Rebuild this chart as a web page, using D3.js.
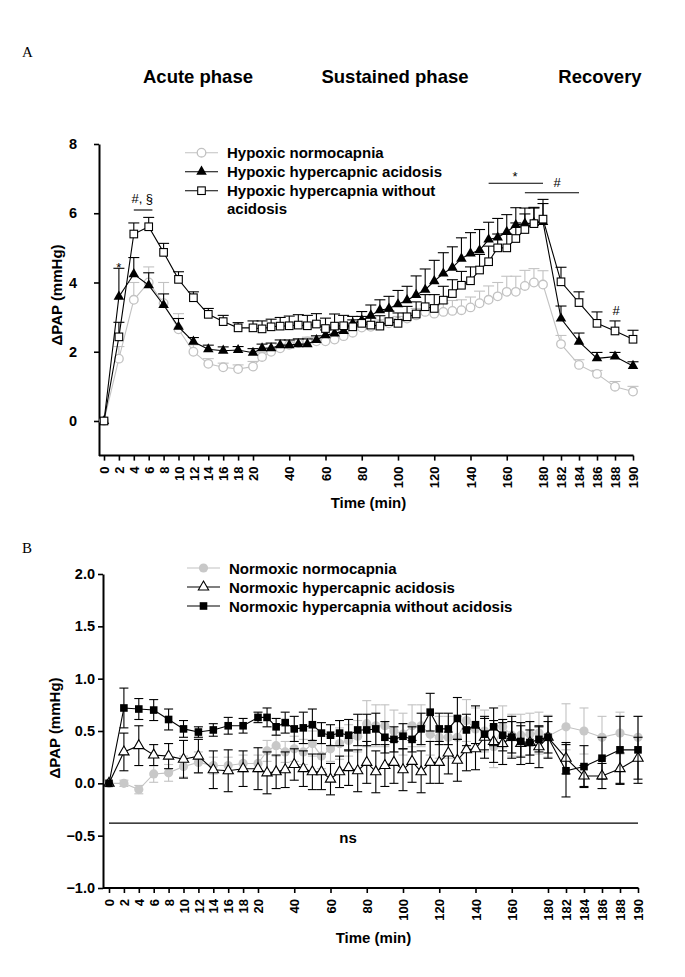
<!DOCTYPE html>
<html><head><meta charset="utf-8">
<script src="https://cdn.jsdelivr.net/npm/d3@7"></script>
<style>body{margin:0;background:#fff} svg{display:block}</style>
</head><body>
<script>
// ---------- DATA ----------
const times = [0,2,4,6,8,10,12,14,16,18,20,25,30,35,40,45,50,55,60,65,70,75,80,85,90,95,100,105,110,115,120,125,130,135,140,145,150,155,160,165,170,175,180,182,184,186,188,190];
const xTickValues = [0,2,4,6,8,10,12,14,16,18,20,40,60,80,100,120,140,160,180,182,184,186,188,190];
const yTicksA = [0,2,4,6,8];
const yTicksB = [-1.0,-0.5,0.0,0.5,1.0,1.5,2.0];

// Panel A
const hypoxNormo =    [0,1.8,3.5,4.0,3.4,2.65,2.0,1.65,1.55,1.5,1.57, 1.85,2.0,2.1,2.2,2.25,2.3,2.3,2.3,2.35,2.45,2.55,2.7,2.72,2.77,2.82,2.87,2.96,3.05,3.15,3.1,3.15,3.18,3.2,3.28,3.4,3.5,3.6,3.73,3.73,3.9,4.0,3.94, 2.22,1.62,1.36,0.99,0.85];
const hypoxNormoErr = [0,0.35,0.5,0.45,0.6,0.45,0.2,0.15,0.12,0.12,0.15, 0.12,0.12,0.12,0.12,0.12,0.12,0.12,0.12,0.12,0.12,0.12,0.15,0.15,0.15,0.15,0.15,0.15,0.2,0.2,0.25,0.25,0.3,0.3,0.3,0.35,0.4,0.4,0.45,0.45,0.45,0.4,0.4, 0.25,0.15,0.1,0.15,0.15];
const hypoxAcid =     [0,3.59,4.24,3.92,3.35,2.72,2.29,2.07,2.03,2.05,1.97, 2.1,2.1,2.19,2.19,2.22,2.22,2.34,2.48,2.53,2.6,2.82,2.91,3.05,3.2,3.25,3.37,3.49,3.64,3.79,4.04,4.26,4.43,4.69,4.84,4.93,5.24,5.30,5.46,5.66,5.70,5.72,5.75, 2.96,2.29,1.81,1.86,1.59];
const hypoxAcidErr =  [0,0.82,0.48,0.36,0.32,0.24,0.12,0.12,0.11,0.1,0.12, 0.12,0.15,0.15,0.15,0.15,0.15,0.12,0.15,0.15,0.15,0.2,0.25,0.3,0.3,0.35,0.4,0.4,0.55,0.6,0.6,0.6,0.6,0.6,0.6,0.6,0.5,0.55,0.5,0.5,0.45,0.45,0.65, 0.36,0.25,0.17,0.12,0.12];
const hypoxNoAcid =   [0,2.43,5.40,5.61,4.87,4.09,3.56,3.08,2.87,2.69,2.69, 2.66,2.72,2.74,2.75,2.77,2.75,2.8,2.67,2.74,2.75,2.72,2.82,2.77,2.74,2.87,2.82,3.01,3.09,3.30,3.25,3.49,3.68,3.92,4.05,4.36,4.6,5.0,5.0,5.27,5.53,5.70,5.83, 4.02,3.42,2.82,2.6,2.36];
const hypoxNoAcidErr =[0,0.42,0.32,0.27,0.26,0.22,0.17,0.17,0.18,0.15,0.2, 0.23,0.22,0.25,0.28,0.3,0.3,0.3,0.3,0.35,0.3,0.2,0.2,0.2,0.3,0.3,0.3,0.3,0.35,0.35,0.4,0.4,0.4,0.4,0.4,0.45,0.45,0.4,0.4,0.45,0.45,0.45,0.45, 0.42,0.31,0.33,0.29,0.26];

// Panel B
const normoNormo =    [0,0.0,-0.06,0.09,0.10,0.16,0.20,0.17,0.17,0.19,0.19, 0.31,0.36,0.30,0.33,0.30,0.38,0.26,0.33,0.38,0.41,0.45,0.57,0.55,0.55,0.50,0.47,0.55,0.55,0.47,0.44,0.44,0.44,0.60,0.52,0.50,0.35,0.54,0.46,0.46,0.47,0.48,0.45, 0.54,0.50,0.44,0.48,0.44];
const normoNormoErr = [0,0.03,0.04,0.08,0.08,0.1,0.1,0.08,0.08,0.08,0.08, 0.1,0.1,0.1,0.12,0.12,0.12,0.12,0.12,0.15,0.15,0.15,0.22,0.2,0.2,0.2,0.2,0.2,0.2,0.2,0.2,0.2,0.2,0.2,0.2,0.2,0.2,0.2,0.2,0.2,0.2,0.2,0.2, 0.22,0.22,0.2,0.2,0.2];
const normoAcid =     [0,0.30,0.36,0.27,0.26,0.23,0.26,0.13,0.12,0.14,0.14, 0.10,0.11,0.13,0.18,0.14,0.11,0.11,0.04,0.11,0.15,0.12,0.20,0.11,0.17,0.20,0.13,0.21,0.11,0.20,0.20,0.29,0.22,0.32,0.33,0.44,0.40,0.38,0.44,0.38,0.39,0.35,0.44, 0.24,0.07,0.07,0.14,0.24];
const normoAcidErr =  [0,0.18,0.19,0.1,0.12,0.18,0.16,0.18,0.2,0.17,0.2, 0.2,0.16,0.17,0.15,0.17,0.17,0.17,0.15,0.15,0.17,0.2,0.2,0.2,0.2,0.2,0.2,0.2,0.2,0.2,0.2,0.2,0.2,0.2,0.2,0.2,0.2,0.2,0.2,0.2,0.2,0.2,0.15, 0.15,0.1,0.12,0.15,0.2];
const normoNoAcid =   [0,0.72,0.71,0.70,0.61,0.52,0.49,0.51,0.55,0.55,0.63, 0.63,0.54,0.58,0.52,0.53,0.56,0.48,0.46,0.48,0.46,0.51,0.51,0.52,0.44,0.42,0.45,0.42,0.52,0.68,0.52,0.52,0.62,0.51,0.56,0.47,0.54,0.46,0.44,0.40,0.39,0.42,0.44, 0.12,0.16,0.24,0.32,0.32];
const normoNoAcidErr =[0,0.19,0.1,0.1,0.1,0.08,0.05,0.06,0.08,0.07,0.05, 0.09,0.08,0.1,0.12,0.15,0.15,0.1,0.1,0.12,0.15,0.15,0.15,0.15,0.15,0.12,0.12,0.12,0.15,0.18,0.15,0.15,0.2,0.15,0.18,0.15,0.18,0.15,0.15,0.15,0.12,0.12,0.2, 0.25,0.2,0.2,0.32,0.32];

const legendA = ["Hypoxic normocapnia","Hypoxic hypercapnic acidosis","Hypoxic hypercapnia without|acidosis"];
const legendB = ["Normoxic normocapnia","Normoxic hypercapnic acidosis","Normoxic hypercapnia without acidosis"];
const phases = ["Acute phase","Sustained phase","Recovery"];

// ---------- DRAWING ----------
const FONT = "'Liberation Sans', Arial, Helvetica, sans-serif";
const GRAY = "#c2c2c2";
const svg = d3.select("body").append("svg").attr("width",685).attr("height",977);

function marker(sel, type, cx, cy) {
  const s = {
    circleOpen:  () => sel.append("circle").attr("cx",cx).attr("cy",cy).attr("r",4.3).attr("fill","#fff").attr("stroke",GRAY).attr("stroke-width",1.3),
    circleFill:  () => sel.append("circle").attr("cx",cx).attr("cy",cy).attr("r",4.6).attr("fill","#c8c8c8").attr("stroke","none"),
    triFill:     () => sel.append("path").attr("transform",`translate(${cx},${cy})`).attr("d",d3.symbol(d3.symbolTriangle,48)()).attr("fill","#000"),
    triOpen:     () => sel.append("path").attr("transform",`translate(${cx},${cy})`).attr("d",d3.symbol(d3.symbolTriangle,46)()).attr("fill","#fff").attr("stroke","#000").attr("stroke-width",1.1),
    sqOpen:      () => sel.append("rect").attr("x",cx-3.8).attr("y",cy-3.8).attr("width",7.6).attr("height",7.6).attr("fill","#fff").attr("stroke","#000").attr("stroke-width",1.1),
    sqFill:      () => sel.append("rect").attr("x",cx-3.8).attr("y",cy-3.8).attr("width",7.6).attr("height",7.6).attr("fill","#000")
  };
  s[type]();
}

function drawPanel(o) {
  const x = d3.scaleLinear().domain([0,20,180,190]).range(o.xr);
  const y = d3.scaleLinear().domain(o.yd).range(o.yr);
  const g = svg.append("g");

  // x axis
  const gx = g.append("g").attr("transform",`translate(0,${o.yr[0]})`)
    .call(d3.axisBottom(x).tickValues(xTickValues).tickSize(5).tickSizeOuter(0).tickFormat(d3.format("d")));
  gx.select(".domain").remove();
  gx.append("line").attr("x1",o.axisX).attr("x2",o.xr[3]+0.5).attr("y1",0).attr("y2",0).attr("stroke","#000").attr("stroke-width",2);
  gx.selectAll(".tick line").attr("stroke","#000").attr("stroke-width",1.6);
  gx.selectAll(".tick text").attr("fill","#000").attr("font-family",FONT).attr("font-size",13).attr("font-weight","bold")
    .attr("transform","rotate(-90)").attr("text-anchor","end").attr("x",-11).attr("y",0).attr("dy","0.36em");

  // y axis
  const gy = g.append("g").attr("transform",`translate(${o.axisX},0)`)
    .call(d3.axisLeft(y).tickValues(o.yTicks).tickSize(5).tickSizeOuter(0).tickFormat(o.yFmt));
  gy.select(".domain").attr("stroke","#000").attr("stroke-width",2);
  gy.selectAll(".tick line").attr("stroke","#000").attr("stroke-width",1.6);
  gy.selectAll(".tick text").attr("fill","#000").attr("font-family",FONT).attr("font-size",14.5).attr("font-weight","bold").attr("x",-o.yLabelGap);

  // axis titles
  g.append("text").attr("x",(o.xr[0]+o.xr[3])/2).attr("y",o.timeY).attr("text-anchor","middle")
    .attr("font-family",FONT).attr("font-size",15).attr("font-weight","bold").text("Time (min)");
  g.append("text").attr("transform",`translate(${o.ylabX},${o.ylabY}) rotate(-90)`).attr("text-anchor","middle")
    .attr("font-family",FONT).attr("font-size",15).attr("font-weight","bold").text("ΔPAP (mmHg)");

  // series
  o.series.forEach(s => {
    const pts = times.map((t,i)=>({t, v:s.values[i], e:s.err[i]}));
    g.append("path").datum(pts).attr("fill","none").attr("stroke",s.lineColor).attr("stroke-width",1.1)
      .attr("d", d3.line().x(d=>x(d.t)).y(d=>y(d.v)));
    const eg = g.append("g").attr("stroke",s.lineColor).attr("stroke-width",1.1);
    pts.forEach(d => {
      if (!d.e) return;
      const top = y(d.v + d.e), bot = o.twoSided ? y(d.v - d.e) : y(d.v);
      eg.append("line").attr("x1",x(d.t)).attr("x2",x(d.t)).attr("y1",top).attr("y2",bot);
      eg.append("line").attr("x1",x(d.t)-o.cap).attr("x2",x(d.t)+o.cap).attr("y1",top).attr("y2",top);
      if (o.twoSided) eg.append("line").attr("x1",x(d.t)-o.cap).attr("x2",x(d.t)+o.cap).attr("y1",bot).attr("y2",bot);
    });
    const mg = g.append("g");
    pts.forEach(d => marker(mg, s.marker, x(d.t), y(d.v)));
  });

  // legend
  o.legend.forEach((lab,i) => {
    const ly = o.legY[i];
    const s = o.series[i];
    g.append("line").attr("x1",o.legX1).attr("x2",o.legX2).attr("y1",ly).attr("y2",ly).attr("stroke",s.lineColor).attr("stroke-width",1.1);
    marker(g, s.marker, (o.legX1+o.legX2)/2, ly);
    const parts = lab.split("|");
    parts.forEach((p,j) => {
      g.append("text").attr("x",o.legTX).attr("y",ly+5.5+j*18).attr("font-family",FONT).attr("font-size",15)
        .attr("font-weight","bold").attr("fill","#000").text(p);
    });
  });
  return {x,y,g};
}

// Panel A
const A = drawPanel({
  xr:[104,253,543,633], yd:[-1,8], yr:[455.6,144], axisX:99, yTicks:yTicksA, yFmt:d3.format("d"), yLabelGap:22,
  timeY:508, ylabX:62, ylabY:295, cap:5.5, twoSided:false,
  series:[
    {values:hypoxNormo, err:hypoxNormoErr, marker:"circleOpen", lineColor:GRAY},
    {values:hypoxAcid, err:hypoxAcidErr, marker:"triFill", lineColor:"#000"},
    {values:hypoxNoAcid, err:hypoxNoAcidErr, marker:"sqOpen", lineColor:"#000"}
  ],
  legend:legendA, legY:[152.7,171.7,190.7], legX1:185, legX2:218, legTX:227
});

// Panel B
const B = drawPanel({
  xr:[109,258,548,638], yd:[-1,2], yr:[888,574], axisX:103, yTicks:yTicksB, yFmt:d3.format(".1f"), yLabelGap:8,
  timeY:943, ylabX:60, ylabY:728, cap:4.5, twoSided:true,
  series:[
    {values:normoNormo, err:normoNormoErr, marker:"circleFill", lineColor:GRAY},
    {values:normoAcid, err:normoAcidErr, marker:"triOpen", lineColor:"#000"},
    {values:normoNoAcid, err:normoNoAcidErr, marker:"sqFill", lineColor:"#000"}
  ],
  legend:legendB, legY:[568,587,606], legX1:187, legX2:220, legTX:229
});

// Panel letters and phase headings
svg.append("text").attr("x",22).attr("y",57).attr("font-family","'Liberation Serif','Times New Roman',serif").attr("font-size",15).text("A");
svg.append("text").attr("x",22).attr("y",553).attr("font-family","'Liberation Serif','Times New Roman',serif").attr("font-size",15).text("B");
const phaseX = [198,395,600];
phases.forEach((p,i)=> svg.append("text").attr("x",phaseX[i]).attr("y",83).attr("text-anchor","middle")
  .attr("font-family",FONT).attr("font-size",18.5).attr("font-weight","bold").text(p));

// Significance annotations panel A
const ann = A.g.append("g").attr("font-family",FONT).attr("font-size",13).attr("fill","#000");
function bar(t1,t2,yy){ A.g.append("line").attr("x1",A.x(t1)).attr("x2",A.x(t2)).attr("y1",yy).attr("y2",yy).attr("stroke","#000").attr("stroke-width",1.1); }
ann.append("text").attr("x",A.x(2)).attr("y",272).attr("text-anchor","middle").text("*");
ann.append("text").attr("x",A.x(5)+1).attr("y",203).attr("text-anchor","middle").text("#, §");
bar(4,6.5,210);
ann.append("text").attr("x",515).attr("y",181).attr("text-anchor","middle").text("*");
bar(150,180,183.3);
ann.append("text").attr("x",557).attr("y",187).attr("text-anchor","middle").text("#");
bar(170,184,192.7);
ann.append("text").attr("x",A.x(188)+1).attr("y",315).attr("text-anchor","middle").text("#");

// ns line panel B
B.g.append("line").attr("x1",B.x(0)).attr("x2",B.x(190)).attr("y1",B.y(-0.38)).attr("y2",B.y(-0.38)).attr("stroke","#000").attr("stroke-width",1.1);
B.g.append("text").attr("x",348).attr("y",843).attr("text-anchor","middle").attr("font-family",FONT).attr("font-size",15).attr("font-weight","bold").text("ns");
</script>
</body></html>
